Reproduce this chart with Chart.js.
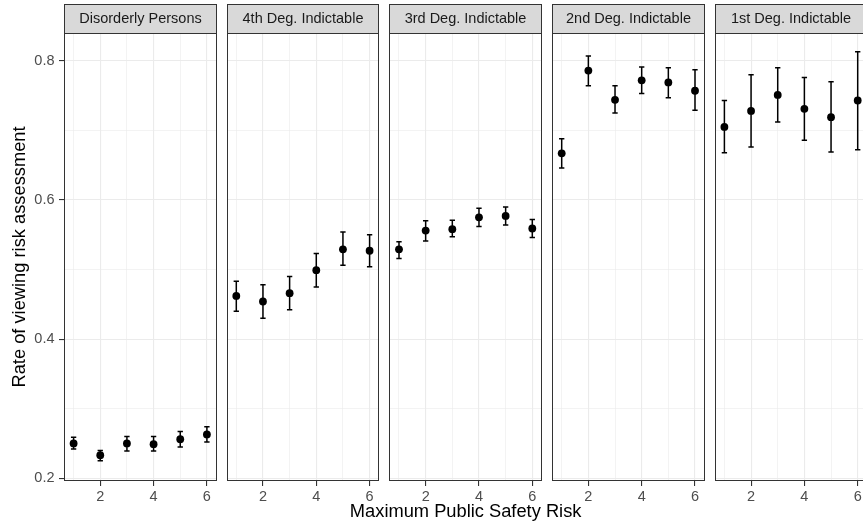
<!DOCTYPE html>
<html>
<head>
<meta charset="utf-8">
<script src="https://cdn.jsdelivr.net/npm/chart.js@4/dist/chart.umd.min.js"></script>
<style>
  html, body { margin: 0; padding: 0; background: #ffffff; overflow: hidden; }
  #wrap { position: relative; width: 863px; height: 529px; overflow: hidden; }
  #wrap canvas { position: absolute; left: 0; top: 0; }
</style>
</head>
<body>
<div id="wrap"></div>
<script>
// Offence categories, one facet each
const categories = ['Disorderly Persons', '4th Deg. Indictable', '3rd Deg. Indictable', '2nd Deg. Indictable', '1st Deg. Indictable'];
// Maximum public safety risk levels (x axis)
const riskLevels = [1, 2, 3, 4, 5, 6];
const xTickLabels = ['2', '4', '6'];
const yTickLabels = ['0.2', '0.4', '0.6', '0.8'];

// Rate of viewing risk assessment: estimate and confidence interval per facet
const dpMean = [0.250, 0.233, 0.250, 0.249, 0.256, 0.263];
const dpLow  = [0.242, 0.225, 0.239, 0.239, 0.245, 0.252];
const dpHigh = [0.259, 0.240, 0.260, 0.260, 0.267, 0.274];

const d4Mean = [0.462, 0.454, 0.466, 0.499, 0.529, 0.527];
const d4Low  = [0.440, 0.430, 0.442, 0.475, 0.506, 0.504];
const d4High = [0.483, 0.478, 0.490, 0.523, 0.554, 0.550];

const d3Mean = [0.529, 0.556, 0.558, 0.575, 0.577, 0.559];
const d3Low  = [0.516, 0.541, 0.547, 0.562, 0.564, 0.546];
const d3High = [0.540, 0.570, 0.571, 0.588, 0.590, 0.572];

const d2Mean = [0.667, 0.786, 0.744, 0.772, 0.769, 0.757];
const d2Low  = [0.646, 0.764, 0.725, 0.753, 0.747, 0.729];
const d2High = [0.688, 0.807, 0.764, 0.791, 0.790, 0.787];

const d1Mean = [0.705, 0.728, 0.751, 0.731, 0.719, 0.743];
const d1Low  = [0.668, 0.676, 0.712, 0.686, 0.669, 0.672];
const d1High = [0.743, 0.780, 0.790, 0.776, 0.770, 0.813];

const means = [dpMean, d4Mean, d3Mean, d2Mean, d1Mean];
const lows  = [dpLow, d4Low, d3Low, d2Low, d1Low];
const highs = [dpHigh, d4High, d3High, d2High, d1High];

const xTitle = 'Maximum Public Safety Risk';
const yTitle = 'Rate of viewing risk assessment';

// Layout of the facet grid
const FONT = '"Liberation Sans", Arial, Helvetica, sans-serif';
const CANVAS_W = 900, CANVAS_H = 529;
const PANEL_LEFT0 = 64, PANEL_STEP = 162.7, PANEL_W = 152.5;
const PANEL_TOP = 33, STRIP_TOP = 4, PANEL_BOTTOM = 481;
const Y_AXIS_W = 64, X_AXIS_H = CANVAS_H - PANEL_BOTTOM;
const X_TITLE_Y = 512;

Chart.defaults.font.family = FONT;
Chart.defaults.animation = false;

const isMajorY = v => Math.round(v * 10) % 2 === 0;
const isMajorX = v => Math.round(v) % 2 === 0;

// Error bars with caps, drawn under the points
const errorBars = {
  id: 'errorBars',
  beforeDatasetsDraw(chart, args, opts) {
    const { ctx, scales: { x, y } } = chart;
    const lo = opts.low, hi = opts.high;
    ctx.save();
    ctx.strokeStyle = '#000000';
    ctx.lineWidth = 1.5;
    ctx.lineCap = 'butt';
    riskLevels.forEach((r, i) => {
      const px = x.getPixelForValue(r);
      const cap = Math.abs(x.getPixelForValue(r + 0.1) - px);
      const yl = y.getPixelForValue(lo[i]);
      const yh = y.getPixelForValue(hi[i]);
      ctx.beginPath();
      ctx.moveTo(px, yl); ctx.lineTo(px, yh);
      ctx.moveTo(px - cap, yl); ctx.lineTo(px + cap, yl);
      ctx.moveTo(px - cap, yh); ctx.lineTo(px + cap, yh);
      ctx.stroke();
    });
    ctx.restore();
  }
};

// Facet strip above the panel, the panel border and the shared x title
const facetFrame = {
  id: 'facetFrame',
  afterDraw(chart, args, opts) {
    const { ctx, chartArea: a } = chart;
    const l = Math.round(a.left) + 0.5, r = Math.round(a.right) - 0.5;
    const t = Math.round(a.top) + 0.5, b = Math.round(a.bottom) - 0.5;
    ctx.save();
    ctx.fillStyle = '#D9D9D9';
    ctx.fillRect(l, STRIP_TOP + 0.5, r - l, t - STRIP_TOP - 0.5);
    ctx.strokeStyle = '#333333';
    ctx.lineWidth = 1;
    ctx.strokeRect(l, STRIP_TOP + 0.5, r - l, t - STRIP_TOP - 0.5);
    ctx.strokeRect(l, t, r - l, b - t);
    ctx.fillStyle = '#1A1A1A';
    ctx.font = '14.5px ' + FONT;
    ctx.textAlign = 'center';
    ctx.textBaseline = 'middle';
    ctx.fillText(opts.label, (l + r) / 2, (STRIP_TOP + t) / 2 + 0.5);
    if (opts.xTitle) {
      ctx.fillStyle = '#000000';
      ctx.font = '18.3px ' + FONT;
      ctx.fillText(opts.xTitle, (a.left + a.right) / 2, X_TITLE_Y);
    }
    ctx.restore();
  }
};

const wrap = document.getElementById('wrap');

categories.forEach((cat, p) => {
  const canvas = document.createElement('canvas');
  canvas.width = CANVAS_W;
  canvas.height = CANVAS_H;
  canvas.style.width = CANVAS_W + 'px';
  canvas.style.height = CANVAS_H + 'px';
  wrap.appendChild(canvas);

  const panelLeft = PANEL_LEFT0 + p * PANEL_STEP;
  const panelRight = panelLeft + PANEL_W;
  const first = p === 0;

  new Chart(canvas, {
    type: 'scatter',
    data: {
      datasets: [{
        data: riskLevels.map((r, i) => ({ x: r, y: means[p][i] })),
        backgroundColor: '#000000',
        borderColor: '#000000',
        pointRadius: 3.9,
        pointHoverRadius: 3.9,
        borderWidth: 0
      }]
    },
    options: {
      responsive: false,
      devicePixelRatio: 1,
      layout: {
        padding: { left: panelLeft - Y_AXIS_W, right: CANVAS_W - panelRight, top: PANEL_TOP, bottom: 0 }
      },
      plugins: {
        legend: { display: false },
        tooltip: { enabled: false },
        errorBars: { low: lows[p], high: highs[p] },
        facetFrame: { label: cat, xTitle: p === 2 ? xTitle : null }
      },
      scales: {
        x: {
          type: 'linear',
          position: 'bottom',
          min: 0.64,
          max: 6.36,
          afterFit: s => { s.height = X_AXIS_H; },
          afterBuildTicks: s => { s.ticks = riskLevels.map(v => ({ value: v })); },
          border: { display: false },
          grid: {
            color: '#EBEBEB',
            lineWidth: c => (isMajorX(c.tick.value) ? 1.1 : 0.6),
            tickLength: 5,
            tickColor: c => (isMajorX(c.tick.value) ? '#333333' : 'rgba(0,0,0,0)'),
            tickWidth: 1.1
          },
          ticks: {
            autoSkip: false,
            maxRotation: 0,
            padding: 2,
            color: '#4D4D4D',
            font: { size: 14.5 },
            callback: v => {
              const s = String(Math.round(v));
              return xTickLabels.includes(s) ? s : '';
            }
          }
        },
        y: {
          type: 'linear',
          min: 0.196,
          max: 0.840,
          afterFit: s => { s.width = Y_AXIS_W; },
          afterBuildTicks: s => {
            s.ticks = [0.2, 0.3, 0.4, 0.5, 0.6, 0.7, 0.8].map(v => ({ value: v }));
          },
          border: { display: false },
          grid: {
            color: '#EBEBEB',
            lineWidth: c => (isMajorY(c.tick.value) ? 1.1 : 0.6),
            drawTicks: first,
            tickLength: 5,
            tickColor: c => (isMajorY(c.tick.value) ? '#333333' : 'rgba(0,0,0,0)'),
            tickWidth: 1.1
          },
          ticks: {
            display: first,
            padding: 4.5,
            color: '#4D4D4D',
            font: { size: 14.5 },
            callback: v => {
              const s = v.toFixed(1);
              return yTickLabels.includes(s) ? s : '';
            }
          },
          title: {
            display: first,
            text: yTitle,
            color: '#000000',
            font: { size: 18.3 },
            padding: { top: 8.5, bottom: 0 }
          }
        }
      }
    },
    plugins: [errorBars, facetFrame]
  });
});
</script>
</body>
</html>
